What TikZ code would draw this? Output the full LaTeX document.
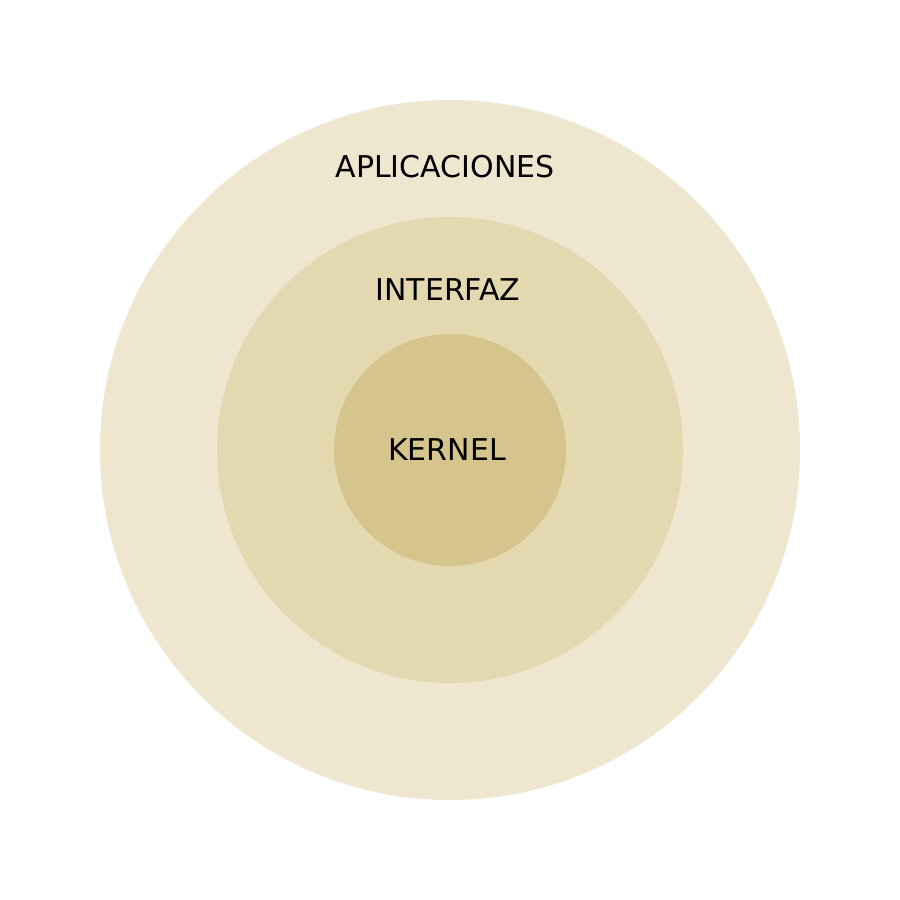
\documentclass[tikz,border=0pt]{standalone}
\usepackage{fontspec}
\setmainfont{DejaVu Sans}
\definecolor{ringouter}{HTML}{EEE6CF}
\definecolor{ringmiddle}{HTML}{E3D8B0}
\definecolor{ringinner}{HTML}{D5C48C}
\begin{document}
\begin{tikzpicture}[x=0.5pt,y=-0.5pt,
  layer/.style={circle,inner sep=0pt,draw=none},
  lbl/.style={font=\fontsize{15}{18}\selectfont,text=black,inner sep=0pt}]
  \useasboundingbox (0,0) rectangle (900,900);
  \fill[white] (0,0) rectangle (900,900);
  \node[layer,fill=ringouter,minimum size=350pt] (apps) at (450,450) {};
  \node[layer,fill=ringmiddle,minimum size=233pt] (iface) at (450,450) {};
  \node[layer,fill=ringinner,minimum size=116pt] (kern) at (450,450) {};
  \node[lbl] (tapps) at (445,167) {APLICACIONES};
  \node[lbl] (tiface) at (448,290) {INTERFAZ};
  \node[lbl] (tkern) at (447,450) {KERNEL};
\end{tikzpicture}
\end{document}
